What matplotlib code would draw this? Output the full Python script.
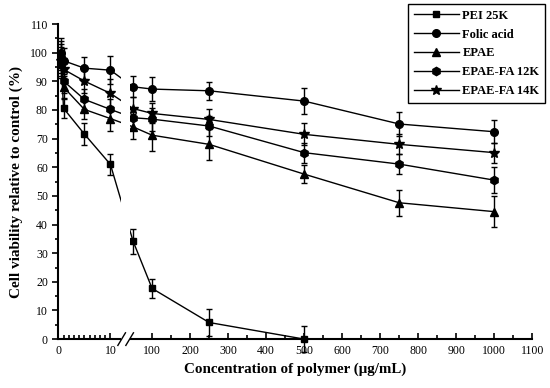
import numpy as np
import matplotlib
matplotlib.use("Agg")
import matplotlib.pyplot as plt
from matplotlib.lines import Line2D
from matplotlib.ticker import FixedLocator, NullFormatter

# Data
conc = [0.5, 1, 5, 10, 50, 100, 250, 500, 750, 1000]
pei = [99, 80.6, 71.6, 61.0, 34.2, 17.7, 5.8, 0.0, None, None]
pei_err = [5, 3.5, 4.0, 3.6, 4.4, 3.3, 4.7, 4.6, None, None]
folic = [100, 97.2, 94.6, 93.9, 88.1, 87.3, 86.7, 83.1, 75.1, 72.4]
folic_err = [5, 4.5, 3.8, 5.0, 3.7, 4.1, 3.1, 4.6, 4.3, 4.1]
epae = [96, 88, 80.2, 77.0, 74.1, 71.2, 68.0, 57.6, 47.6, 44.5]
epae_err = [5, 4, 3.5, 4.4, 4.4, 5.5, 5.3, 3.2, 4.5, 5.3]
fa12 = [98, 90.1, 83.7, 80.2, 77.3, 76.8, 74.4, 65.1, 61.1, 55.5]
fa12_err = [5, 4, 3.5, 3.5, 3.5, 4.0, 3.5, 3.5, 3.5, 4.6]
fa14 = [97, 94.2, 90.1, 85.8, 80.5, 78.8, 76.7, 71.5, 68.0, 65.1]
fa14_err = [5, 4, 4.0, 5.0, 4.0, 3.5, 3.5, 3.9, 3.5, 3.5]

labels = ["PEI 25K", "Folic acid", "EPAE", "EPAE-FA 12K", "EPAE-FA 14K"]
markers = ["s", "o", "^", "h", "*"]
msizes = [5, 5.5, 6, 6, 7.5]

xticks_major = [0, 10, 100, 200, 300, 400, 500, 600, 700, 800, 900, 1000, 1100]
xticks_minor = list(range(1, 10)) + list(range(150, 1100, 100))


# broken x axis: 0-10 stretched, 100-1100 compressed
def fwd(x):
    x = np.asarray(x, dtype=float)
    return np.where(x <= 10, x, 10.7 + x / 13.7)


def inv(u):
    u = np.asarray(u, dtype=float)
    return np.where(u <= 10, u, np.where(u < 10.7 + 10 / 13.7, 10, (u - 10.7) * 13.7))


plt.rcParams["font.family"] = ["Liberation Serif", "DejaVu Serif"]

fig = plt.figure(figsize=(5.5, 3.88), dpi=100)
ax = fig.add_axes([0.106, 0.126, 0.862, 0.812])
ax.set_xscale("function", functions=(fwd, inv))
ax.set_xlim(0, 1100)
ax.set_ylim(0, 110)

series = [(pei, pei_err), (folic, folic_err), (epae, epae_err),
          (fa12, fa12_err), (fa14, fa14_err)]
handles = []
for (vals, errs), lab, mk, ms in zip(series, labels, markers, msizes):
    x = [c for c, v in zip(conc, vals) if v is not None]
    y = [v for v in vals if v is not None]
    e = [v for v in errs if v is not None]
    ax.errorbar(x, y, yerr=e, color="black", marker=mk, markersize=ms,
                linewidth=1, elinewidth=1, capsize=2.5, capthick=1,
                clip_on=False, zorder=3)
    handles.append(Line2D([], [], color="black", marker=mk, markersize=ms,
                          linewidth=1, label=lab))

# gap of the axis break
ax.axvspan(19, 42, ymin=-0.02, ymax=1.0, color="white", zorder=4,
           clip_on=False, linewidth=0)
to_axes = ax.transData + ax.transAxes.inverted()
for xb in [20, 41]:
    xf = to_axes.transform((xb, 0))[0]
    ax.plot([xf - 0.008, xf + 0.008], [-0.02, 0.02], color="black",
            linewidth=1, transform=ax.transAxes, clip_on=False, zorder=5)

ax.spines["top"].set_visible(False)
ax.spines["right"].set_visible(False)
ax.spines["left"].set_linewidth(1.5)
ax.spines["bottom"].set_linewidth(1.5)

ax.xaxis.set_major_locator(FixedLocator(xticks_major))
ax.xaxis.set_minor_locator(FixedLocator(xticks_minor))
ax.xaxis.set_minor_formatter(NullFormatter())
ax.set_xticklabels([str(t) for t in xticks_major])
ax.set_yticks(range(0, 111, 10))
ax.yaxis.set_minor_locator(FixedLocator(range(5, 110, 10)))
ax.tick_params(axis="x", which="major", direction="in", length=4, width=1.2,
               labelsize=8.5, pad=4)
ax.tick_params(axis="x", which="minor", direction="in", length=3, width=1.2)
ax.tick_params(axis="y", which="major", direction="out", length=4, width=1.2,
               labelsize=8.5)
ax.tick_params(axis="y", which="minor", direction="out", length=2.5, width=1.2)

ax.set_xlabel("Concentration of polymer (\u03bcg/mL)", fontsize=10.8,
              fontweight="bold", labelpad=4)
ax.set_ylabel("Cell viability relative to control (%)", fontsize=11,
              fontweight="bold", labelpad=5)

leg = ax.legend(handles=handles, loc="upper right",
                bbox_to_anchor=(545 / 550, 1 - 4 / 388),
                bbox_transform=fig.transFigure, fancybox=False,
                edgecolor="black", framealpha=1, handlelength=3.6,
                labelspacing=0.55, borderpad=0.45, handletextpad=0.3,
                borderaxespad=0, prop={"weight": "bold", "size": 9})
leg.get_frame().set_linewidth(1)

fig.savefig("out.png", dpi=100)
